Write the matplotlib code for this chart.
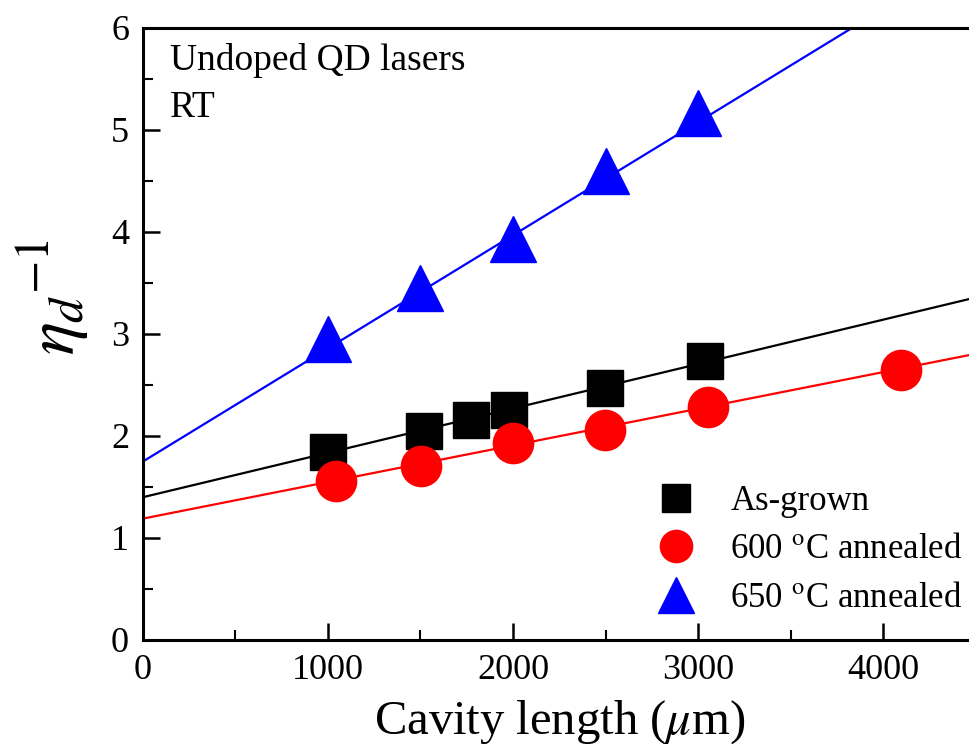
import numpy as np
import matplotlib.pyplot as plt
from matplotlib.ticker import MultipleLocator

# As-grown
x_grown = [1000, 1519, 1773, 1978, 2497, 3038]
y_grown = [1.84, 2.05, 2.16, 2.25, 2.47, 2.74]
# 600 C annealed
x_600 = [1043, 1503, 2000, 2497, 3054, 4097]
y_600 = [1.56, 1.71, 1.93, 2.06, 2.28, 2.65]
# 650 C annealed
x_650 = [1000, 1497, 2000, 2503, 3000]
y_650 = [2.95, 3.45, 3.93, 4.60, 5.17]

# linear fits (intercept, slope)
fit_grown = (1.40, 0.000435)
fit_600 = (1.19, 0.000359)
fit_650 = (1.75, 0.001109)

plt.rcParams['font.family'] = ['Liberation Serif', 'DejaVu Serif']
plt.rcParams['mathtext.fontset'] = 'stix'


def main():
    fig = plt.figure(figsize=(9.7, 7.44), dpi=100)
    ax = fig.add_axes([0.1474, 0.1398, 0.8583, 0.8226])

    xx = np.array([0, 4500])
    for (b, m), c in [(fit_grown, 'k'), (fit_600, 'red'), (fit_650, 'blue')]:
        ax.plot(xx, b + m * xx, color=c, lw=1.6, zorder=2)

    ax.plot(x_grown, y_grown, 's', color='k', ms=26, ls='none', label='As-grown', zorder=3)
    ax.plot(x_600, y_600, 'o', color='red', ms=29, ls='none',
            label=r'600 $^{\mathrm{o}}$C annealed', zorder=3)
    ax.plot(x_650, y_650, '^', color='blue', ms=33, ls='none',
            label=r'650 $^{\mathrm{o}}$C annealed', zorder=3)

    ax.set_xlim(0, 4500)
    ax.set_ylim(0, 6)
    ax.xaxis.set_major_locator(MultipleLocator(1000))
    ax.xaxis.set_minor_locator(MultipleLocator(500))
    ax.yaxis.set_major_locator(MultipleLocator(1))
    ax.yaxis.set_minor_locator(MultipleLocator(0.5))
    ax.tick_params(which='major', direction='in', length=12, width=1.8, labelsize=26, pad=10)
    ax.tick_params(which='minor', direction='in', length=7, width=1.5)
    ax.spines['right'].set_visible(False)
    for s in ['left', 'bottom', 'top']:
        ax.spines[s].set_linewidth(2.2)

    ax.set_xlabel(r'Cavity length ($\mu$m)', fontsize=35, labelpad=8)
    ax.set_ylabel(r'$\eta_d{}^{-1}$', fontsize=50)
    ax.yaxis.set_label_coords(-0.062, 0.56)

    ax.text(0.032, 0.975, 'Undoped QD lasers\nRT', transform=ax.transAxes,
            fontsize=27, va='top', ha='left', linespacing=1.45)

    ax.legend(loc='lower right', bbox_to_anchor=(1.01, 0.15), bbox_transform=fig.transFigure,
              frameon=False, fontsize=25, markerscale=0.8, handletextpad=0.8,
              labelspacing=0.45, borderpad=0, handlelength=1.5)

    fig.savefig('out.png', dpi=100)


if __name__ == '__main__':
    main()
